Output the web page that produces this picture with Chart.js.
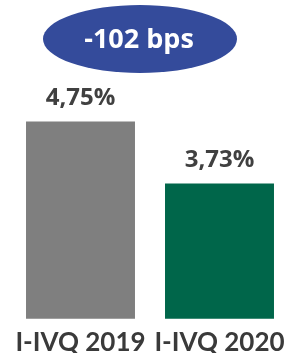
<!DOCTYPE html>
<html>
<head>
<meta charset="utf-8">
<script src="https://cdn.jsdelivr.net/npm/chart.js@4.4.0/dist/chart.umd.min.js"></script>
<style>
  html, body { margin: 0; padding: 0; background: #fff; }
  #wrap { width: 292px; height: 353px; }
</style>
</head>
<body>
<div id="wrap"><canvas id="barchart"></canvas></div>
<script>
const categories = ["I-IVQ 2019", "I-IVQ 2020"];
const values = [4.75, 3.73];
const barColors = ["#7f7f7f", "#00664a"];
const changeLabel = "-102 bps";

function fmt(v) {
  return v.toFixed(2).replace(".", ",") + "%";
}

const labelPlugin = {
  id: "labels",
  afterDatasetsDraw(chart) {
    const ctx = chart.ctx;
    const meta = chart.getDatasetMeta(0);
    ctx.save();
    ctx.fillStyle = "#404040";
    ctx.font = "bold 24px 'Open Sans'";
    ctx.textAlign = "center";
    ctx.textBaseline = "middle";
    meta.data.forEach((bar, i) => {
      ctx.fillText(fmt(values[i]), bar.x, bar.y - 23);
    });

    // change bubble
    ctx.fillStyle = "#344b9b";
    ctx.beginPath();
    ctx.ellipse(140, 39, 97, 34, 0, 0, Math.PI * 2);
    ctx.fill();
    ctx.fillStyle = "#ffffff";
    ctx.font = "bold 27px 'Open Sans'";
    ctx.fillText(changeLabel, 139, 40);
    ctx.restore();
  }
};

new Chart(document.getElementById("barchart"), {
  type: "bar",
  data: {
    labels: categories,
    datasets: [
      {
        data: values,
        backgroundColor: barColors,
        borderWidth: 0,
        barPercentage: 0.784,
        categoryPercentage: 1,
      },
    ],
  },
  options: {
    responsive: true,
    maintainAspectRatio: false,
    animation: false,
    layout: { padding: { top: 76, left: 11, right: 3, bottom: -5 } },
    plugins: {
      legend: { display: false },
      tooltip: { enabled: false },
    },
    scales: {
      x: {
        grid: { display: false },
        border: { display: false },
        ticks: {
          color: "#3a3a3a",
          font: { family: "Lato", weight: "bold", size: 26 },
          padding: 0,
          maxRotation: 0,
          minRotation: 0,
          autoSkip: false,
        },
      },
      y: {
        display: false,
        min: 1.5,
        max: 5.5,
      },
    },
  },
  plugins: [labelPlugin],
});
</script>
</body>
</html>
